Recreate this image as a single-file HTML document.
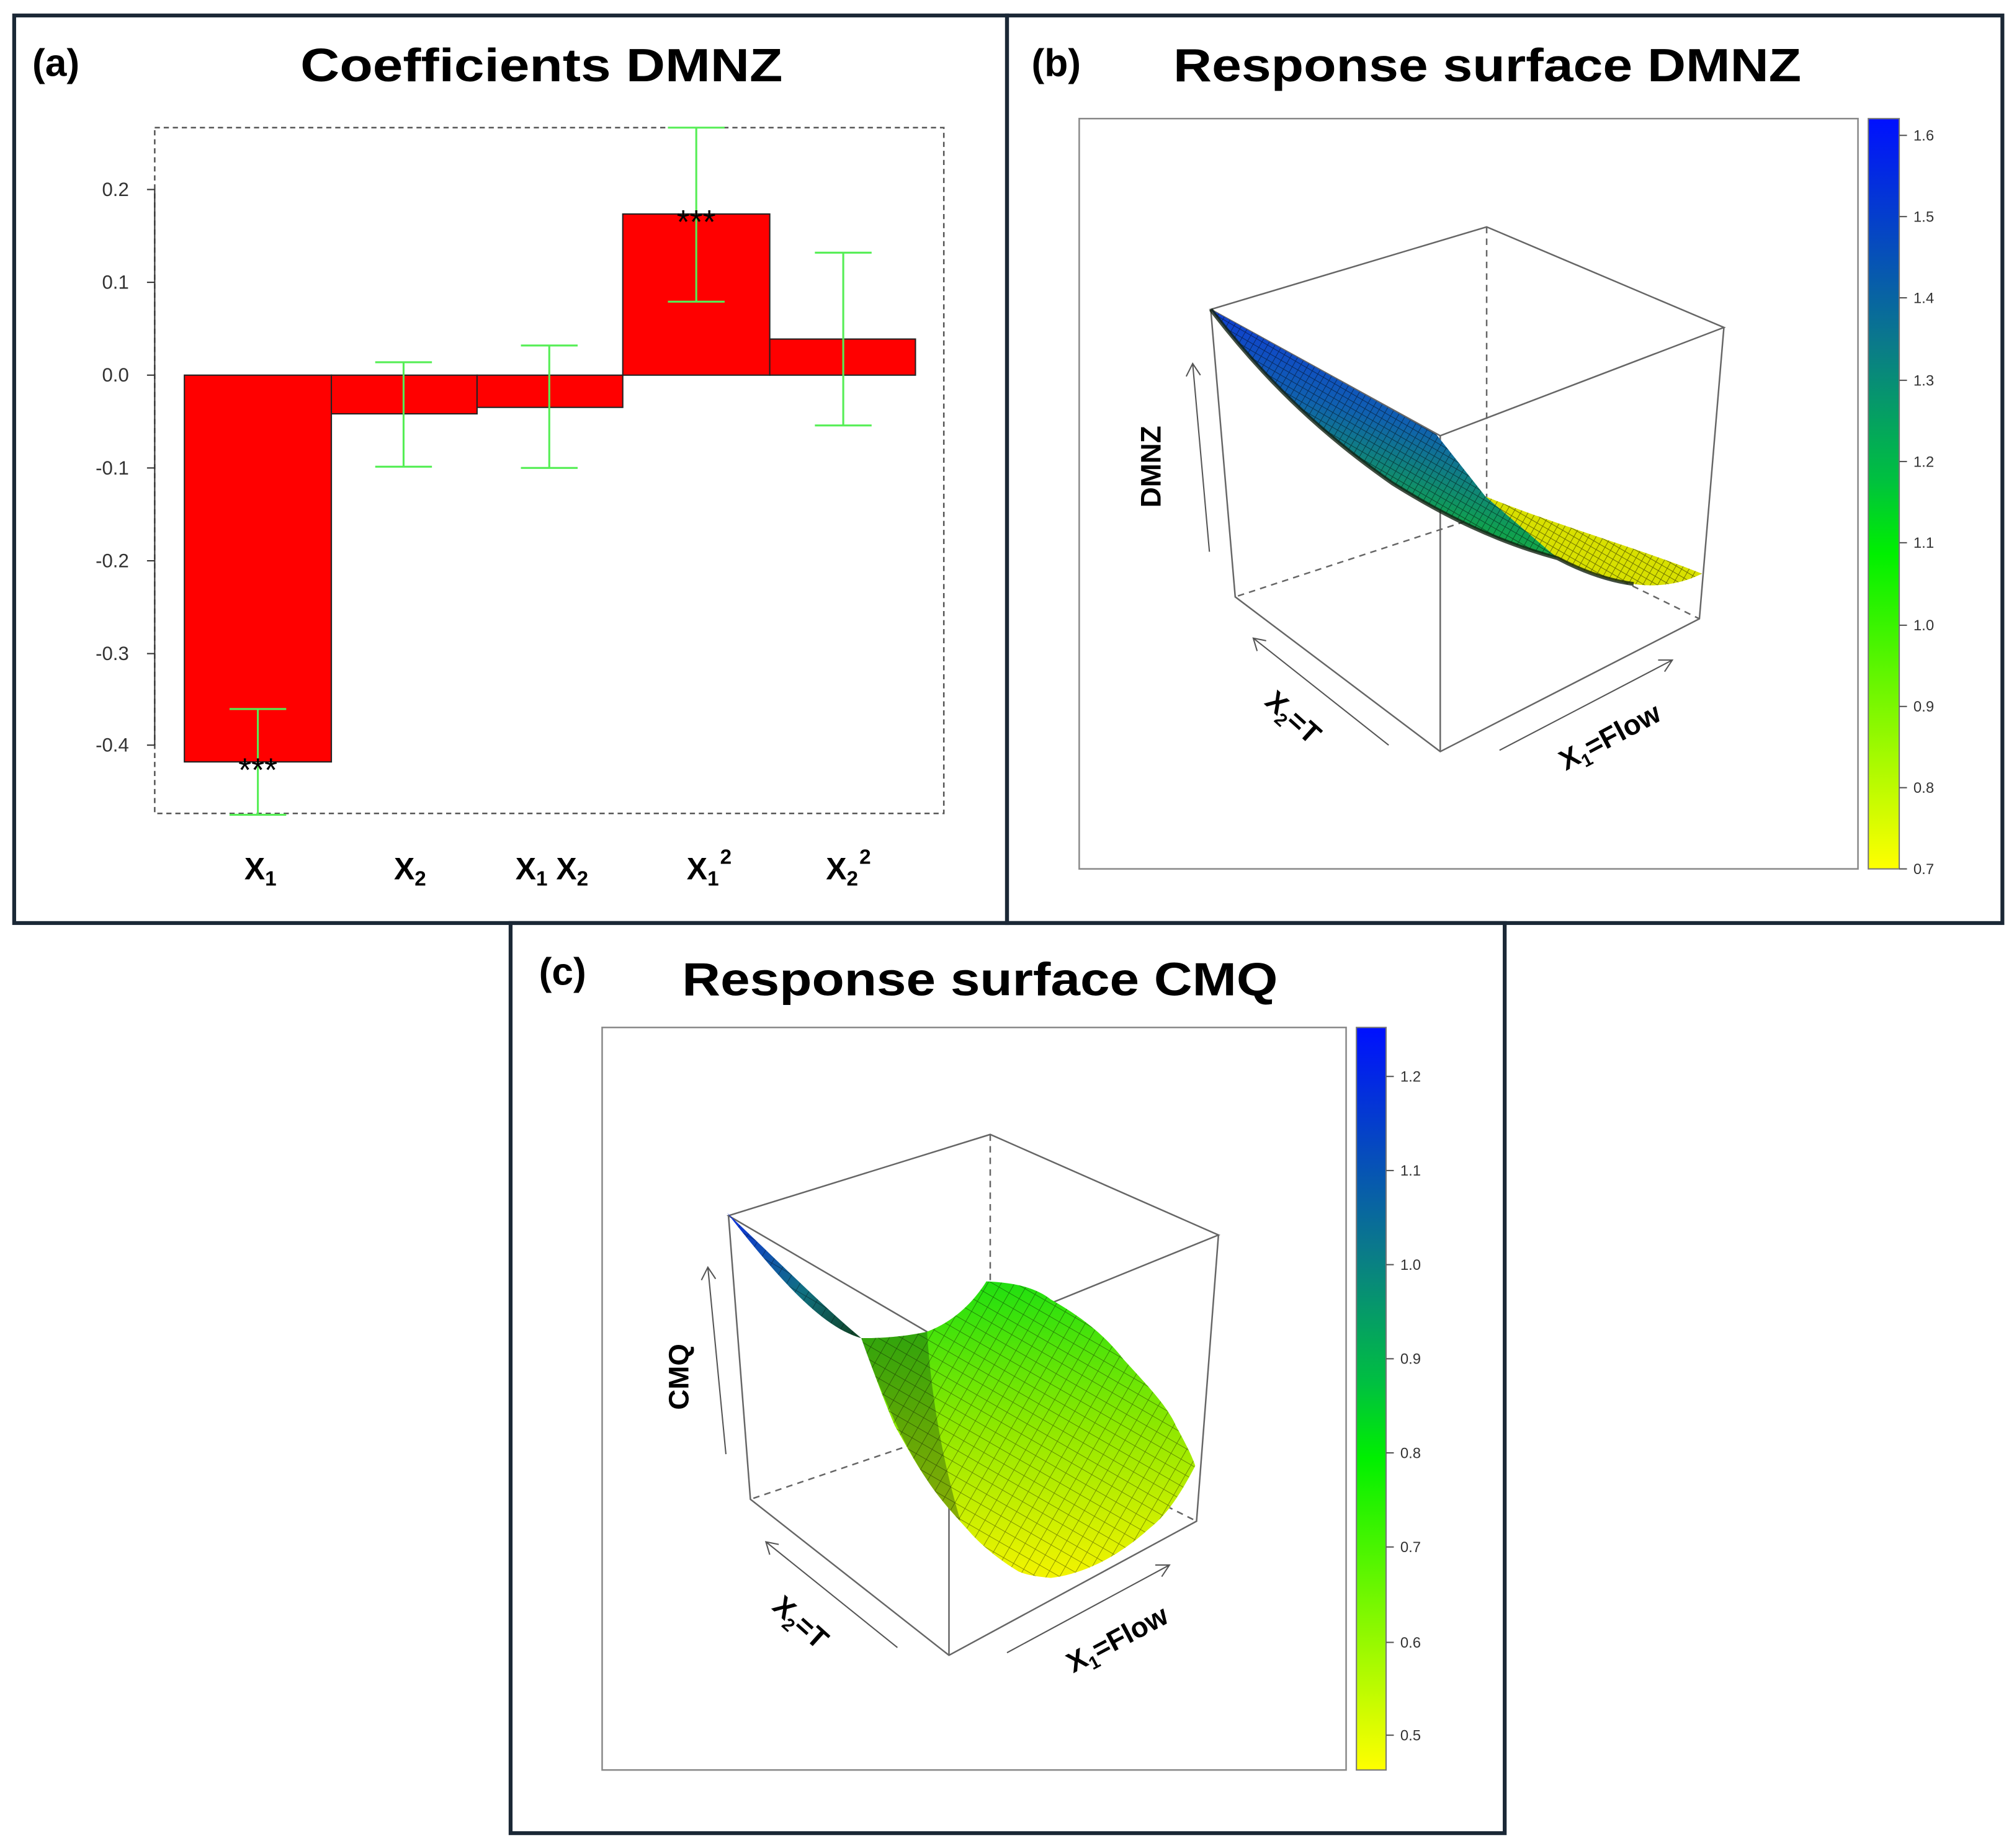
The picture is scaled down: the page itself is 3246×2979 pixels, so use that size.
<!DOCTYPE html>
<html><head><meta charset="utf-8"><style>html,body{margin:0;padding:0;background:#fff}svg{display:block}</style></head>
<body>
<svg xmlns="http://www.w3.org/2000/svg" width="3246" height="2979" viewBox="0 0 1562 1433.5" font-family="Liberation Sans, sans-serif">
<defs>
<linearGradient id="cb" x1="0" y1="0" x2="0" y2="1">
<stop offset="0" stop-color="#0010ff"/><stop offset="0.3" stop-color="#0a7a8a"/><stop offset="0.48" stop-color="#00c040"/><stop offset="0.58" stop-color="#00f000"/><stop offset="1" stop-color="#ffff00"/>
</linearGradient>
<linearGradient id="bs" x1="0.7" y1="0" x2="0.35" y2="1">
<stop offset="0" stop-color="#1020f0"/><stop offset="0.45" stop-color="#1060b0"/><stop offset="0.75" stop-color="#10a050"/><stop offset="1" stop-color="#30c020"/>
</linearGradient>
<linearGradient id="cg" x1="0" y1="0" x2="0" y2="1">
<stop offset="0" stop-color="#20e010"/><stop offset="0.5" stop-color="#90e800"/><stop offset="1" stop-color="#f4f400"/>
</linearGradient>
<linearGradient id="cblue" x1="0" y1="0" x2="1" y2="1">
<stop offset="0" stop-color="#1030e0"/><stop offset="0.6" stop-color="#107080"/><stop offset="1" stop-color="#104020"/>
</linearGradient>
<pattern id="grid" width="9" height="9" patternUnits="userSpaceOnUse" patternTransform="rotate(30)">
<path d="M0 0H9M0 0V9" stroke="#000" stroke-width="0.8" fill="none" opacity="0.45"/>
</pattern>
<pattern id="gridb" width="5" height="5" patternUnits="userSpaceOnUse" patternTransform="rotate(30)">
<path d="M0 0H5M0 0V5" stroke="#000" stroke-width="0.9" fill="none" opacity="0.5"/>
</pattern>
</defs>

<g fill="none" stroke="#1b2836" stroke-width="3">
<rect x="11" y="12" width="770" height="704"/>
<rect x="781" y="12" width="772" height="704"/>
<rect x="396" y="716" width="771" height="706"/>
</g>

<!-- Panel (a) -->
<text x="25" y="59" font-size="30" font-weight="bold">(a)</text>
<text x="233" y="63" font-size="36" font-weight="bold" textLength="374" lengthAdjust="spacingAndGlyphs">Coefficients DMNZ</text>
<rect x="120" y="99" width="612" height="532" fill="none" stroke="#555" stroke-width="1.2" stroke-dasharray="4,3"/>
<g stroke="#333" stroke-width="1">
<line x1="120" y1="147" x2="120" y2="578"/>
<line x1="114" y1="147" x2="120" y2="147"/><line x1="114" y1="219" x2="120" y2="219"/><line x1="114" y1="291" x2="120" y2="291"/><line x1="114" y1="363" x2="120" y2="363"/><line x1="114" y1="435" x2="120" y2="435"/><line x1="114" y1="507" x2="120" y2="507"/><line x1="114" y1="578" x2="120" y2="578"/>
</g>
<g font-size="15" fill="#333" text-anchor="end">
<text x="100" y="152">0.2</text><text x="100" y="224">0.1</text><text x="100" y="296">0.0</text><text x="100" y="368">-0.1</text><text x="100" y="440">-0.2</text><text x="100" y="512">-0.3</text><text x="100" y="583">-0.4</text>
</g>
<g fill="#ff0000" stroke="#222" stroke-width="1">
<rect x="143" y="291" width="114" height="300"/>
<rect x="257" y="291" width="113" height="30"/>
<rect x="370" y="291" width="113" height="25"/>
<rect x="483" y="166" width="114" height="125"/>
<rect x="597" y="263" width="113" height="28"/>
</g>
<g stroke="#55ee55" stroke-width="1.5" fill="none">
<path d="M200 550V632M178 550H222M178 632H222"/>
<path d="M313 281V362M291 281H335M291 362H335"/>
<path d="M426 268V363M404 268H448M404 363H448"/>
<path d="M540 99V234M518 99H562M518 234H562"/>
<path d="M654 196V330M632 196H676M632 330H676"/>
</g>
<g font-size="26" text-anchor="middle" fill="#000">
<text x="200" y="606">***</text><text x="540" y="181">***</text>
</g>
<g font-size="24" font-weight="bold" text-anchor="middle">
<text x="202" y="682">X<tspan font-size="16" dy="5">1</tspan></text>
<text x="318" y="682">X<tspan font-size="16" dy="5">2</tspan></text>
<text x="428" y="682">X<tspan font-size="16" dy="5">1</tspan><tspan dy="-5"> X</tspan><tspan font-size="16" dy="5">2</tspan></text>
<text x="550" y="682">X<tspan font-size="16" dy="5">1</tspan><tspan font-size="16" dy="-17" dx="1">2</tspan></text>
<text x="658" y="682">X<tspan font-size="16" dy="5">2</tspan><tspan font-size="16" dy="-17" dx="1">2</tspan></text>
</g>

<!-- Panel (b) -->
<text x="800" y="59" font-size="30" font-weight="bold">(b)</text>
<text x="910" y="63" font-size="36" font-weight="bold" textLength="487" lengthAdjust="spacingAndGlyphs">Response surface DMNZ</text>
<rect x="837" y="92" width="604" height="582" fill="none" stroke="#888" stroke-width="1.2"/>
<rect x="1449" y="92" width="24" height="582" fill="url(#cb)" stroke="#777" stroke-width="1"/>
<g stroke="#555" stroke-width="1">
<line x1="1473" y1="105" x2="1479" y2="105"/><line x1="1473" y1="168" x2="1479" y2="168"/><line x1="1473" y1="231" x2="1479" y2="231"/><line x1="1473" y1="295" x2="1479" y2="295"/><line x1="1473" y1="358" x2="1479" y2="358"/><line x1="1473" y1="421" x2="1479" y2="421"/><line x1="1473" y1="485" x2="1479" y2="485"/><line x1="1473" y1="548" x2="1479" y2="548"/><line x1="1473" y1="611" x2="1479" y2="611"/><line x1="1473" y1="674" x2="1479" y2="674"/>
</g>
<g font-size="11.5" fill="#333">
<text x="1484" y="109">1.6</text><text x="1484" y="172">1.5</text><text x="1484" y="235">1.4</text><text x="1484" y="299">1.3</text><text x="1484" y="362">1.2</text><text x="1484" y="425">1.1</text><text x="1484" y="489">1.0</text><text x="1484" y="552">0.9</text><text x="1484" y="615">0.8</text><text x="1484" y="678">0.7</text>
</g>
<g stroke="#666" stroke-width="1.2" fill="none">
<path d="M1153 176V399M1153 399L958 463M1153 399L1318 480" stroke-dasharray="5,4"/>
<path d="M939 240L1153 176L1337 254L1117 338Z"/>
<path d="M939 240L958 463L1117 583L1318 480L1337 254M1117 338V583"/>
</g>
<path d="M939 240L1114 337L1152 385L1208 433C1160 420 1120 400 1080 375C1030 340 985 300 939 240Z" fill="url(#bs)"/>
<path d="M1152 385C1200 405 1270 425 1320 445C1300 455 1280 455 1267 453C1245 450 1225 442 1208 433Z" fill="#d8e000"/>
<path d="M939 240L1114 337L1152 385C1200 405 1270 425 1320 445C1300 455 1280 455 1267 453C1245 450 1225 442 1208 433C1160 420 1120 400 1080 375C1030 340 985 300 939 240Z" fill="url(#gridb)"/>
<path d="M939 240C985 300 1030 340 1080 375C1120 400 1160 420 1208 433C1225 442 1245 450 1267 453" fill="none" stroke="#102010" stroke-width="3" opacity="0.8"/>
<g stroke="#555" stroke-width="1" fill="none">
<path d="M938 428L925 282M920 292L925 282L931 291"/>
<path d="M1077 578L972 495M975 505L972 495L982 497"/>
<path d="M1163 582L1297 512M1286 512L1297 512L1291 521"/>
</g>
<text transform="translate(900 362) rotate(-90)" font-size="22" font-weight="bold" text-anchor="middle">DMNZ</text>
<text transform="translate(998 562) rotate(42)" font-size="22" font-weight="bold" text-anchor="middle">X<tspan font-size="14" dy="5">2</tspan><tspan dy="-5">=T</tspan></text>
<text transform="translate(1252 578) rotate(-28)" font-size="22" font-weight="bold" text-anchor="middle">X<tspan font-size="14" dy="5">1</tspan><tspan dy="-5">=Flow</tspan></text>

<!-- Panel (c) -->
<text x="418" y="764" font-size="30" font-weight="bold">(c)</text>
<text x="529" y="772" font-size="36" font-weight="bold" textLength="462" lengthAdjust="spacingAndGlyphs">Response surface CMQ</text>
<rect x="467" y="797" width="577" height="576" fill="none" stroke="#888" stroke-width="1.2"/>
<rect x="1052" y="797" width="23" height="576" fill="url(#cb)" stroke="#777" stroke-width="1"/>
<g stroke="#555" stroke-width="1">
<line x1="1075" y1="835" x2="1081" y2="835"/><line x1="1075" y1="908" x2="1081" y2="908"/><line x1="1075" y1="981" x2="1081" y2="981"/><line x1="1075" y1="1054" x2="1081" y2="1054"/><line x1="1075" y1="1127" x2="1081" y2="1127"/><line x1="1075" y1="1200" x2="1081" y2="1200"/><line x1="1075" y1="1274" x2="1081" y2="1274"/><line x1="1075" y1="1346" x2="1081" y2="1346"/>
</g>
<g font-size="11.5" fill="#333">
<text x="1086" y="839">1.2</text><text x="1086" y="912">1.1</text><text x="1086" y="985">1.0</text><text x="1086" y="1058">0.9</text><text x="1086" y="1131">0.8</text><text x="1086" y="1204">0.7</text><text x="1086" y="1278">0.6</text><text x="1086" y="1350">0.5</text>
</g>
<g stroke="#666" stroke-width="1.2" fill="none">
<path d="M768 880V1100M768 1100L582 1163M768 1100L928 1180" stroke-dasharray="5,4"/>
<path d="M565 943L768 880L945 958L736 1043Z"/>
<path d="M565 943L582 1163L736 1284L928 1180L945 958M736 1043V1284"/>
</g>
<path d="M564 941C600 975 640 1015 668 1038C640 1030 610 1000 564 941Z" fill="url(#cblue)"/>
<path d="M668 1038C690 1038 705 1036 719 1033C740 1025 755 1010 765 994C790 995 805 1000 815 1008C845 1025 860 1040 871 1054C890 1075 905 1090 912 1106C918 1117 924 1128 927 1137C915 1160 905 1175 891 1186C880 1196 872 1201 866 1205C850 1215 832 1222 815 1224C805 1223 797 1222 790 1219C775 1210 760 1198 750 1186C740 1175 728 1162 719 1148C710 1135 702 1120 694 1106C685 1085 676 1060 668 1038Z" fill="url(#cg)"/>
<path d="M668 1038C690 1038 705 1036 719 1033C722 1080 730 1130 745 1180C730 1165 715 1145 700 1115C688 1090 676 1062 668 1038Z" fill="#0a3010" opacity="0.35"/>
<path d="M564 941C600 975 640 1015 668 1038C690 1038 705 1036 719 1033C740 1025 755 1010 765 994C790 995 805 1000 815 1008C845 1025 860 1040 871 1054C890 1075 905 1090 912 1106C918 1117 924 1128 927 1137C915 1160 905 1175 891 1186C880 1196 872 1201 866 1205C850 1215 832 1222 815 1224C805 1223 797 1222 790 1219C775 1210 760 1198 750 1186C740 1175 728 1162 719 1148C710 1135 702 1120 694 1106C685 1085 676 1060 668 1038C640 1030 610 1000 564 941Z" fill="url(#grid)"/>
<g stroke="#555" stroke-width="1" fill="none">
<path d="M563 1128L549 983M544 993L549 983L555 992"/>
<path d="M696 1278L594 1196M597 1206L594 1196L604 1198"/>
<path d="M781 1282L907 1214M896 1214L907 1214L901 1223"/>
</g>
<text transform="translate(534 1068) rotate(-90)" font-size="22" font-weight="bold" text-anchor="middle">CMQ</text>
<text transform="translate(616 1264) rotate(42)" font-size="22" font-weight="bold" text-anchor="middle">X<tspan font-size="14" dy="5">2</tspan><tspan dy="-5">=T</tspan></text>
<text transform="translate(870 1278) rotate(-28)" font-size="22" font-weight="bold" text-anchor="middle">X<tspan font-size="14" dy="5">1</tspan><tspan dy="-5">=Flow</tspan></text>
</svg>
</body></html>
